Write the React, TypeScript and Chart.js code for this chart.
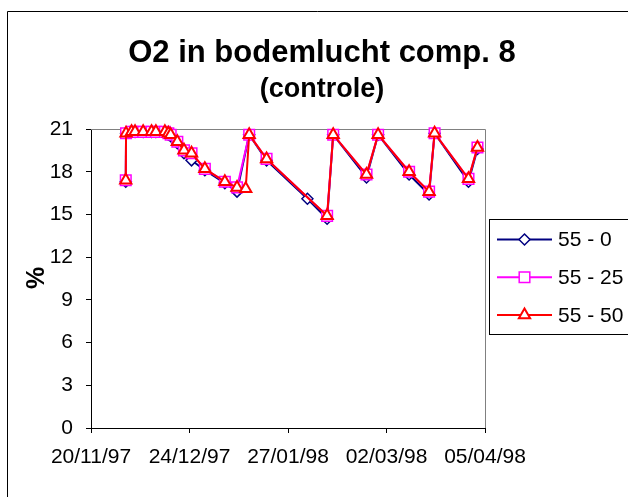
import React, { useEffect, useRef } from 'react';
import { Chart, registerables } from 'chart.js';

Chart.register(...registerables);

const TITLE = 'O2 in bodemlucht comp. 8';
const SUBTITLE = '(controle)';
const Y_TITLE = '%';

// x values are days after 20/11/97
const xTickDays = [0, 34, 68, 102, 136];
const xTickLabels = ['20/11/97', '24/12/97', '27/01/98', '02/03/98', '05/04/98'];
const yMin = 0;
const yMax = 21;
const yStep = 3;

const seriesLabels = ['55 - 0', '55 - 25', '55 - 50'];

const days55_0 = [12.0, 12.1, 14.0, 15.2, 18.0, 20.9, 22.4, 25.5, 26.7, 27.5, 29.8, 32.1, 34.7, 39.3, 46.2, 50.4, 54.6, 60.6, 74.7, 81.5, 83.6, 95.1, 99.1, 109.8, 116.7, 118.6, 130.3, 133.4];
const vals55_0 = [17.3, 20.7, 20.8, 20.8, 20.8, 20.8, 20.8, 20.8, 20.6, 20.5, 20.0, 19.3, 18.8, 18.1, 17.2, 16.6, 20.6, 18.8, 16.1, 14.7, 20.6, 17.6, 20.6, 17.8, 16.4, 20.7, 17.3, 19.6];

const days55_25 = [12.0, 12.1, 14.0, 15.2, 18.0, 20.9, 22.4, 25.5, 26.7, 27.5, 29.8, 32.1, 34.7, 39.3, 46.2, 50.4, 54.6, 60.6, 81.5, 83.6, 95.1, 99.1, 109.8, 116.7, 118.6, 130.3, 133.4];
const vals55_25 = [17.4, 20.7, 20.8, 20.8, 20.8, 20.8, 20.8, 20.8, 20.7, 20.6, 20.1, 19.5, 19.3, 18.2, 17.3, 16.9, 20.6, 18.9, 14.9, 20.6, 17.8, 20.6, 18.0, 16.6, 20.7, 17.5, 19.7];

const days55_50 = [12.0, 12.1, 14.0, 15.2, 18.0, 20.9, 22.4, 25.5, 26.7, 27.5, 29.8, 32.1, 34.7, 39.3, 46.2, 50.4, 53.4, 54.6, 60.6, 81.5, 83.6, 95.1, 99.1, 109.8, 116.7, 118.6, 130.3, 133.4];
const vals55_50 = [17.4, 20.7, 20.8, 20.8, 20.8, 20.8, 20.8, 20.8, 20.7, 20.6, 20.1, 19.5, 19.3, 18.2, 17.3, 16.9, 16.8, 20.6, 18.9, 14.9, 20.6, 17.8, 20.6, 18.0, 16.6, 20.7, 17.5, 19.7];

const COLORS = ['#000080', '#FF00FF', '#FF0000'];
const STYLES = ['rectRot', 'rect', 'triangle'];
const FONT = '"Liberation Sans", Arial, sans-serif';

function toPoints(xs: number[], ys: number[]) {
  return xs.map((x, i) => ({ x, y: ys[i] }));
}

function drawMarker(ctx: CanvasRenderingContext2D, style: string, x: number, y: number, color: string) {
  ctx.save();
  ctx.fillStyle = '#fff';
  ctx.strokeStyle = color;
  ctx.beginPath();
  if (style === 'rectRot') {
    const r = 5.5;
    ctx.lineWidth = 1.5;
    ctx.moveTo(x, y - r);
    ctx.lineTo(x + r, y);
    ctx.lineTo(x, y + r);
    ctx.lineTo(x - r, y);
    ctx.closePath();
  } else if (style === 'rect') {
    const s = 5.3;
    ctx.lineWidth = 1.5;
    ctx.rect(x - s, y - s, 2 * s, 2 * s);
  } else {
    const r = 6.5;
    ctx.lineWidth = 2;
    ctx.moveTo(x, y - r);
    ctx.lineTo(x + r * 0.866, y + r * 0.5);
    ctx.lineTo(x - r * 0.866, y + r * 0.5);
    ctx.closePath();
  }
  ctx.fill();
  ctx.stroke();
  ctx.restore();
}

const decor = {
  id: 'decor',
  beforeDatasetsDraw(chart: any) {
    const { ctx, chartArea: a } = chart;
    ctx.save();
    ctx.strokeStyle = '#808080';
    ctx.lineWidth = 1;
    ctx.beginPath();
    ctx.moveTo(a.left, Math.round(a.top) + 0.5);
    ctx.lineTo(Math.round(a.right) + 0.5, Math.round(a.top) + 0.5);
    ctx.lineTo(Math.round(a.right) + 0.5, a.bottom);
    ctx.stroke();
    ctx.restore();
  },
  afterDraw(chart: any) {
    const { ctx } = chart;
    ctx.save();
    // outer chart border (left and top visible)
    ctx.strokeStyle = '#000';
    ctx.lineWidth = 1;
    ctx.beginPath();
    ctx.moveTo(7.5, 497);
    ctx.lineTo(7.5, 11.5);
    ctx.lineTo(628, 11.5);
    ctx.stroke();

    // titles
    ctx.fillStyle = '#000';
    ctx.textAlign = 'center';
    ctx.textBaseline = 'middle';
    ctx.font = `bold 31px ${FONT}`;
    ctx.fillText(TITLE, 322, 53);
    ctx.font = `bold 27px ${FONT}`;
    ctx.fillText(SUBTITLE, 322, 90);

    // y title
    ctx.save();
    ctx.translate(37, 278);
    ctx.rotate(-Math.PI / 2);
    ctx.font = `bold 25px ${FONT}`;
    ctx.fillText(Y_TITLE, 0, 0);
    ctx.restore();

    // legend
    ctx.strokeStyle = '#000';
    ctx.lineWidth = 1;
    ctx.strokeRect(489.5, 219.5, 200, 115);
    ctx.font = `21px ${FONT}`;
    ctx.textAlign = 'left';
    seriesLabels.forEach((lab, i) => {
      const y = 239.5 + i * 37.8;
      ctx.strokeStyle = COLORS[i];
      ctx.lineWidth = 2;
      ctx.beginPath();
      ctx.moveTo(497, y);
      ctx.lineTo(552, y);
      ctx.stroke();
      drawMarker(ctx, STYLES[i], 524.5, y, COLORS[i]);
      ctx.fillStyle = '#000';
      ctx.fillText(lab, 558, y + 1);
    });
    ctx.restore();
  },
};

export default function App() {
  const ref = useRef<HTMLCanvasElement | null>(null);
  useEffect(() => {
    if (!ref.current) return;
    const mk = (i: number, xs: number[], ys: number[], order: number, radius: number, pbw: number) => ({
      label: seriesLabels[i],
      data: toPoints(xs, ys),
      borderColor: COLORS[i],
      backgroundColor: COLORS[i],
      borderWidth: 2,
      pointStyle: STYLES[i],
      pointRadius: radius,
      pointBorderWidth: pbw,
      pointBackgroundColor: '#ffffff',
      pointBorderColor: COLORS[i],
      tension: 0,
      order,
      clip: false as any,
    });
    const chart = new Chart(ref.current, {
      type: 'line',
      data: {
        datasets: [
          mk(0, days55_0, vals55_0, 3, 5.5, 1.5),
          mk(1, days55_25, vals55_25, 2, 7.5, 1.5),
          mk(2, days55_50, vals55_50, 1, 6.5, 2),
        ],
      },
      plugins: [decor],
      options: {
        animation: false,
        responsive: false,
        devicePixelRatio: 1,
        layout: { padding: { left: 0, top: 129, right: 143, bottom: 0 } },
        plugins: {
          legend: { display: false },
          title: { display: false },
          tooltip: { enabled: false },
        },
        scales: {
          x: {
            type: 'linear',
            min: xTickDays[0],
            max: xTickDays[xTickDays.length - 1],
            afterBuildTicks: (s: any) => {
              s.ticks = xTickDays.map((v) => ({ value: v }));
            },
            afterFit: (s: any) => {
              s.height = 69;
            },
            ticks: {
              callback: (v: any) => xTickLabels[xTickDays.indexOf(Number(v))] ?? '',
              font: { family: FONT, size: 21 },
              color: '#000',
              padding: 12,
              maxRotation: 0,
              autoSkip: false,
            },
            grid: { drawOnChartArea: false, drawTicks: true, tickLength: 5, color: '#000' },
            border: { color: '#000', width: 1 },
          },
          y: {
            min: yMin,
            max: yMax,
            afterFit: (s: any) => {
              s.width = 91;
            },
            ticks: {
              stepSize: yStep,
              font: { family: FONT, size: 21 },
              color: '#000',
              padding: 13,
            },
            grid: { drawOnChartArea: false, drawTicks: true, tickLength: 5, color: '#000' },
            border: { color: '#000', width: 1 },
          },
        },
      } as any,
    });
    return () => chart.destroy();
  }, []);
  return (
    <div style={{ position: 'fixed', left: 0, top: 0, width: 628, height: 497, background: '#fff' }}>
      <canvas ref={ref} width={628} height={497} style={{ display: 'block', width: 628, height: 497 }} />
    </div>
  );
}
